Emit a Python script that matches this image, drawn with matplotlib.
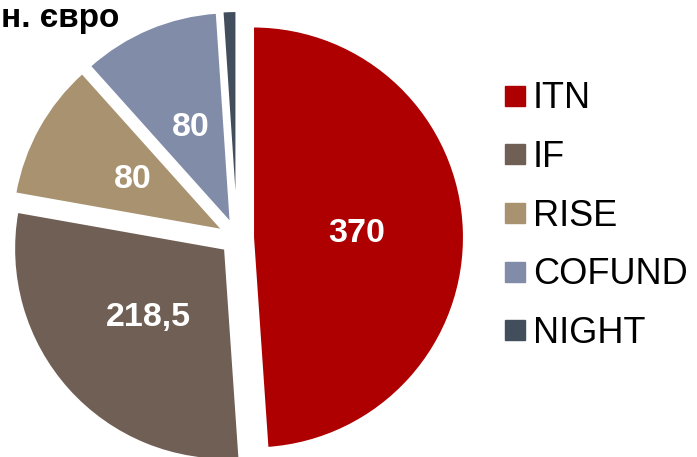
import matplotlib.pyplot as plt
from matplotlib.lines import Line2D

plt.rcParams['font.family'] = ['Liberation Sans', 'DejaVu Sans']

# Budget by action, mln EUR
actions = ['ITN', 'IF', 'RISE', 'COFUND', 'NIGHT']
budget = [370, 218.5, 80, 80, 8]
value_labels = ['370', '218,5', '80', '80', '']
colors = ['#AE0000', '#705F55', '#A89270', '#808CA8', '#424E5C']

W, H = 697, 457
fig = plt.figure(figsize=(W / 100, H / 100), dpi=100)
ax = fig.add_axes([0, 0, 1, 1])

# explode is in data units (pixels here)
wedges, texts, autotexts = ax.pie(
    budget, colors=colors, startangle=90, counterclock=False,
    center=(237, H - 238), radius=211,
    explode=[16] * len(budget),
    autopct=lambda p: '', pctdistance=0.49,
    wedgeprops=dict(edgecolor='white', linewidth=1.5),
)
for t, lab in zip(autotexts, value_labels):
    t.set_text(lab)
    t.set_color('white')
    t.set_fontsize(24.5)
    t.set_fontweight('bold')

ax.set_xlim(0, W)
ax.set_ylim(0, H)
ax.set_aspect('equal')
ax.axis('off')

ax.text(1, H - 27, 'н. євро', ha='left', va='baseline',
        fontsize=24, fontweight='bold', color='black')

handles = [Line2D([], [], marker='s', linestyle='', markersize=14.4,
                  markerfacecolor=c, markeredgecolor=c) for c in colors]
ax.legend(handles, actions, loc='center left',
          bbox_to_anchor=(505 / W, 1 - 216 / H),
          frameon=False, fontsize=26, borderpad=0, borderaxespad=0,
          handlelength=0.55, handletextpad=0.22, labelspacing=0.655)

fig.savefig('out.png', dpi=100)
